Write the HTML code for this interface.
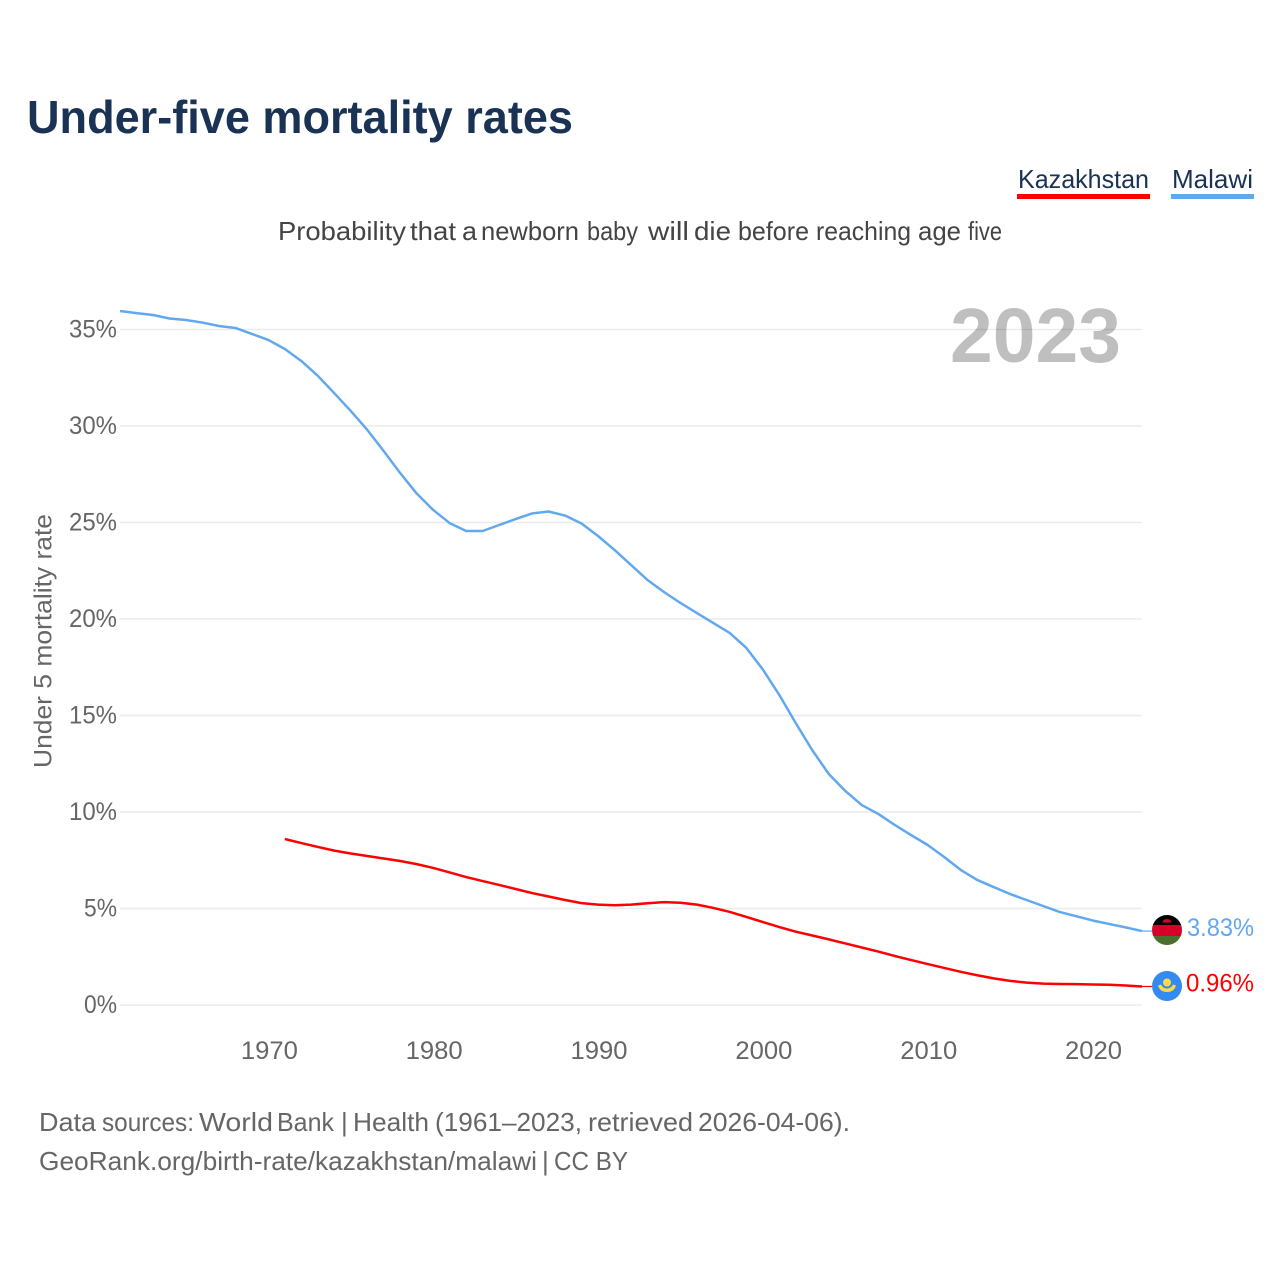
<!DOCTYPE html>
<html lang="en">
<head>
<meta charset="utf-8">
<title>Under-five mortality rates</title>
<style>
  html, body { margin: 0; padding: 0; background: #fff; }
  svg { display: block; font-family: "Liberation Sans", sans-serif; }
</style>
</head>
<body>
<svg id="chart" xmlns="http://www.w3.org/2000/svg" width="1280" height="1280" viewBox="0 0 1280 1280">
  <rect width="1280" height="1280" fill="#fff"/>
  <text x="27" y="133" font-size="46" font-weight="700" fill="#1a3354" textLength="546" lengthAdjust="spacingAndGlyphs">Under-five mortality rates</text>

  <g style="cursor:pointer">
    <text x="1018" y="188" font-size="26" fill="#1a3354" textLength="131" lengthAdjust="spacingAndGlyphs">Kazakhstan</text>
    <rect x="1017" y="194" width="133" height="5" fill="#ff0000"/>
  </g>
  <g style="cursor:pointer">
    <text x="1172" y="188" font-size="26" fill="#1a3354" textLength="81" lengthAdjust="spacingAndGlyphs">Malawi</text>
    <rect x="1171" y="194" width="83" height="5" fill="#62a8ef"/>
  </g>

  <text y="240" font-size="26" fill="#444" lengthAdjust="spacingAndGlyphs"><tspan x="278" textLength="128" lengthAdjust="spacingAndGlyphs">Probability</tspan> <tspan x="410" textLength="46" lengthAdjust="spacingAndGlyphs">that</tspan> <tspan x="462" textLength="15" lengthAdjust="spacingAndGlyphs">a</tspan> <tspan x="481" textLength="98" lengthAdjust="spacingAndGlyphs">newborn</tspan> <tspan x="587" textLength="51" lengthAdjust="spacingAndGlyphs">baby</tspan> <tspan x="648" textLength="41" lengthAdjust="spacingAndGlyphs">will</tspan> <tspan x="694" textLength="37" lengthAdjust="spacingAndGlyphs">die</tspan> <tspan x="738" textLength="71" lengthAdjust="spacingAndGlyphs">before</tspan> <tspan x="816" textLength="95" lengthAdjust="spacingAndGlyphs">reaching</tspan> <tspan x="918" textLength="43" lengthAdjust="spacingAndGlyphs">age</tspan> <tspan x="968" textLength="34" lengthAdjust="spacingAndGlyphs">five</tspan></text>

  <g id="grid"></g>
  <g id="yticks"></g>
  <g id="xticks"></g>

  <text x="950" y="362" font-size="77" font-weight="700" fill="#000" fill-opacity="0.25" textLength="171" lengthAdjust="spacingAndGlyphs">2023</text>

  <text transform="translate(51.500,768) rotate(-90)" font-size="25" fill="#666" textLength="254" lengthAdjust="spacingAndGlyphs">Under 5 mortality rate</text>

  <polyline id="line-malawi" fill="none" stroke="#62a8ef" stroke-width="2.5" stroke-linejoin="round"/>
  <polyline id="line-kazakhstan" fill="none" stroke="#ff0000" stroke-width="2.5" stroke-linejoin="round"/>
  <line id="conn-malawi" stroke="#62a8ef" stroke-width="1.2"/>
  <line id="conn-kazakhstan" stroke="#ff0000" stroke-width="1.2"/>

  <defs>
    <clipPath id="clip-mw"><circle cx="1167" cy="930" r="15"/></clipPath>
  </defs>
  <g clip-path="url(#clip-mw)">
    <rect x="1152" y="915" width="30" height="10" fill="#000"/>
    <rect x="1152" y="925" width="30" height="11" fill="#d80027"/>
    <rect x="1152" y="936" width="30" height="10" fill="#496e2d"/>
    <path d="M1162.500 922.500 a4.500 3.500 0 0 1 9 0 z" fill="#d80027"/>
  </g>
  <g>
    <circle cx="1167" cy="986" r="15" fill="#338af3"/>
    <circle cx="1167" cy="982.500" r="4" fill="#ffda44"/>
    <path d="M1158 985.500 l3 -1 q2 4 6 4 q4 0 6 -4 l3 1 q-2 6.500 -9 6.500 q-7 0 -9 -6.500 z" fill="#ffda44"/>
  </g>

  <text id="end-malawi" x="1187" y="936" font-size="25" fill="#62a8ef" textLength="67" lengthAdjust="spacingAndGlyphs">3.83%</text>
  <text id="end-kazakhstan" x="1186" y="991.500" font-size="25" fill="#ff0000" textLength="68" lengthAdjust="spacingAndGlyphs">0.96%</text>

  <text y="1131" font-size="26" fill="#666"><tspan x="39" textLength="57" lengthAdjust="spacingAndGlyphs">Data</tspan> <tspan x="102" textLength="92" lengthAdjust="spacingAndGlyphs">sources:</tspan> <tspan x="199" textLength="74" lengthAdjust="spacingAndGlyphs">World</tspan> <tspan x="277" textLength="57" lengthAdjust="spacingAndGlyphs">Bank</tspan> <tspan x="341">|</tspan> <tspan x="353" textLength="76" lengthAdjust="spacingAndGlyphs">Health</tspan> <tspan x="435" textLength="147" lengthAdjust="spacingAndGlyphs">(1961–2023,</tspan> <tspan x="588" textLength="105" lengthAdjust="spacingAndGlyphs">retrieved</tspan> <tspan x="698" textLength="152" lengthAdjust="spacingAndGlyphs">2026-04-06).</tspan></text>
  <text y="1170" font-size="26" fill="#666"><tspan x="39" textLength="498" lengthAdjust="spacingAndGlyphs">GeoRank.org/birth-rate/kazakhstan/malawi</tspan> <tspan x="542">|</tspan> <tspan x="554" textLength="74" lengthAdjust="spacingAndGlyphs">CC BY</tspan></text>
</svg>
<script>
const yTickValues = [0, 5, 10, 15, 20, 25, 30, 35];
const xTickYears = [1970, 1980, 1990, 2000, 2010, 2020];
const malawiStartYear = 1961;
const malawiValues = [35.96,35.85,35.75,35.57,35.49,35.36,35.18,35.08,34.77,34.46,33.99,33.37,32.6,31.7,30.78,29.8,28.7,27.56,26.5,25.65,24.97,24.56,24.56,24.87,25.18,25.47,25.57,25.36,24.95,24.3,23.58,22.8,22.02,21.4,20.83,20.31,19.79,19.27,18.5,17.38,16.06,14.6,13.2,11.97,11.09,10.36,9.9,9.33,8.8,8.29,7.67,7.0,6.48,6.11,5.75,5.44,5.13,4.82,4.6,4.38,4.2,4.02,3.83];
const kazakhstanStartYear = 1971;
const kazakhstanValues = [8.6,8.39,8.19,8.0,7.85,7.72,7.59,7.46,7.3,7.1,6.87,6.63,6.42,6.22,6.01,5.8,5.62,5.44,5.28,5.2,5.17,5.2,5.27,5.33,5.3,5.2,5.03,4.82,4.56,4.3,4.04,3.8,3.6,3.4,3.19,2.98,2.77,2.54,2.33,2.12,1.92,1.72,1.54,1.38,1.25,1.16,1.11,1.09,1.08,1.06,1.05,1.01,0.96];

const NS = 'http://www.w3.org/2000/svg';
const xScale = (year) => 120 + (year - 1961) * (1142 - 120) / (2023 - 1961);
const yScale = (pct) => 1005 - pct * (1005 - 329.5) / 35;

function makeEl(tag, attrs, text) {
  const el = document.createElementNS(NS, tag);
  Object.keys(attrs).forEach((k) => el.setAttribute(k, attrs[k]));
  if (text !== undefined) el.textContent = text;
  return el;
}

const grid = document.getElementById('grid');
const yticks = document.getElementById('yticks');
yTickValues.forEach((v) => {
  const y = yScale(v);
  const gl = makeEl('line', { x1: 120, x2: 1142, y1: y, y2: y, stroke: '#ebebeb', 'stroke-width': 1.6 });
  
  
  grid.appendChild(gl);
  const label = v + '%';
  const t = makeEl('text', { x: 117, y: y + 8, 'font-size': 25, fill: '#666', 'text-anchor': 'end', textLength: 15 * label.length + 3, lengthAdjust: 'spacingAndGlyphs' }, label);
  
  
  yticks.appendChild(t);
});

const xticks = document.getElementById('xticks');
xTickYears.forEach((yr) => {
  const t = makeEl('text', { x: xScale(yr) + 1, y: 1059, 'font-size': 25, fill: '#666', 'text-anchor': 'middle', textLength: 57, lengthAdjust: 'spacingAndGlyphs' }, String(yr));
  
  
  xticks.appendChild(t);
});

function seriesPoints(startYear, values) {
  return values.map((v, i) => xScale(startYear + i).toFixed(2) + ',' + yScale(v).toFixed(2)).join(' ');
}
document.getElementById('line-malawi').setAttribute('points', seriesPoints(malawiStartYear, malawiValues));
document.getElementById('line-kazakhstan').setAttribute('points', seriesPoints(kazakhstanStartYear, kazakhstanValues));

function connector(id, values) {
  const el = document.getElementById(id);
  const y = yScale(values[values.length - 1]);
  el.setAttribute('x1', xScale(2023));
  el.setAttribute('x2', xScale(2023) + 10);
  el.setAttribute('y1', y);
  el.setAttribute('y2', y);
}
connector('conn-malawi', malawiValues);
connector('conn-kazakhstan', kazakhstanValues);
document.getElementById('end-malawi').textContent = malawiValues[malawiValues.length - 1].toFixed(2) + '%';
document.getElementById('end-kazakhstan').textContent = kazakhstanValues[kazakhstanValues.length - 1].toFixed(2) + '%';
</script>
</body>
</html>
